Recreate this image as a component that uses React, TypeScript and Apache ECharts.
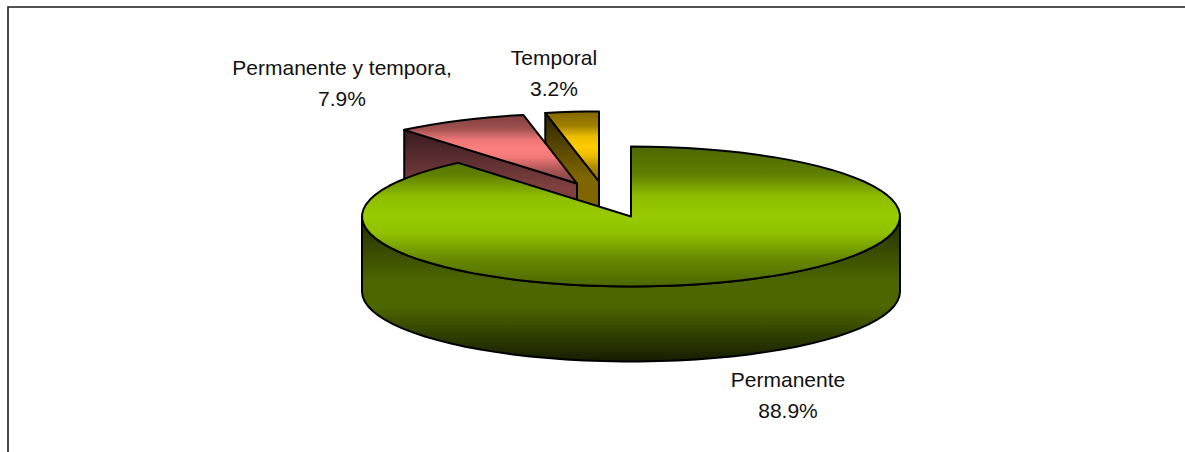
import React, { useEffect, useRef } from "react";
import * as echarts from "echarts";

const categories = ["Permanente", "Permanente y tempora,", "Temporal"];
const shares = [88.9, 7.9, 3.2];

const CX = 631;
const CY = 216.5;
const RX = 269;
const RY = 70;
const DEPTH = 75;

// Layout per slice, same order as the data
const explode = [[0, 0], [-54, -33], [-32, -35]];
const labelAt = [[788, 394.5], [342, 83], [554, 72.5]];
const mids = ["#99cc00", "#ff8080", "#ffcc00"];
const shades = ["#4d6600", "#804040", "#806600"];
const darks = ["#222d00", "#361a1f", "#2b2200"];
const darkest = ["#151c00", "#1f0f0f", "#1a1500"];

function topGradient(i: number) {
  const mix = (t: number) => echarts.color.lerp(t, [shades[i], mids[i]]);
  return new echarts.graphic.LinearGradient(0, 0, 0, 1, [
    { offset: 0, color: shades[i] },
    { offset: 0.2, color: mix(0.25) },
    { offset: 0.36, color: mix(0.85) },
    { offset: 0.5, color: mids[i] },
    { offset: 0.62, color: mix(0.88) },
    { offset: 0.8, color: mix(0.35) },
    { offset: 1, color: shades[i] },
  ]);
}

function sideGradient(i: number) {
  return new echarts.graphic.LinearGradient(0, 0, 0, 1, [
    { offset: 0, color: darks[i] },
    { offset: 0.45, color: shades[i] },
    { offset: 0.62, color: shades[i] },
    { offset: 1, color: darkest[i] },
  ]);
}

function App() {
  const ref = useRef<HTMLDivElement>(null);
  useEffect(() => {
    if (!ref.current) return;
    const chart = echarts.init(ref.current, undefined, { renderer: "svg" });
    const total = shares.reduce((a, b) => a + b, 0);
    const stroke = { stroke: "#000", lineWidth: 2, lineJoin: "round" as const };

    const renderItem = (_params: any, api: any) => {
      const i = api.value(0) as number;
      let startShare = 0;
      for (let k = 0; k < i; k++) startShare += shares[k];
      const a0 = (startShare / total) * Math.PI * 2;
      const a1 = ((startShare + (api.value(1) as number)) / total) * Math.PI * 2;
      const cx = CX + explode[i][0];
      const cy = CY + explode[i][1];
      const at = (a: number): number[] => [cx + RX * Math.sin(a), cy - RY * Math.cos(a)];
      const steps = Math.max(4, Math.ceil((a1 - a0) / 0.07));
      const arc: number[][] = [];
      for (let s = 0; s <= steps; s++) arc.push(at(a0 + ((a1 - a0) * s) / steps));
      const children: any[] = [];

      // Side walls
      if (i === 0) {
        const front: number[][] = [];
        for (let s = 0; s <= 45; s++) front.push(at(Math.PI / 2 + (Math.PI * s) / 45));
        const wall = front.concat(front.slice().reverse().map((p) => [p[0], p[1] + DEPTH]));
        children.push({
          type: "polygon",
          shape: { points: wall },
          style: { fill: sideGradient(i), ...stroke },
        });
      } else {
        const p = at(a0);
        const wall = [[cx, cy], p, [p[0], p[1] + DEPTH], [cx, cy + DEPTH]];
        children.push({
          type: "polygon",
          shape: { points: wall },
          style: { fill: sideGradient(i), ...stroke },
        });
      }

      // Top face
      children.push({
        type: "polygon",
        shape: { points: [[cx, cy], ...arc] },
        style: { fill: topGradient(i), ...stroke },
      });
      return { type: "group", children };
    };

    const labelItem = (_params: any, api: any) => {
      const i = api.value(0) as number;
      return {
        type: "text",
        x: labelAt[i][0],
        y: labelAt[i][1],
        style: {
          text: `${categories[i]}\n${(api.value(1) as number).toFixed(1)}%`,
          fontFamily: "Liberation Sans",
          fontSize: 21,
          lineHeight: 31,
          align: "center",
          verticalAlign: "middle",
          fill: "#111",
        },
      };
    };

    const order = [2, 1, 0];
    chart.setOption({
      animation: false,
      backgroundColor: "#fff",
      graphic: [
        {
          type: "polyline",
          silent: true,
          shape: { points: [[8, 452], [8, 7], [1185, 7]] },
          style: { stroke: "#1c1c1c", lineWidth: 1.6, fill: "none" },
        },
      ],
      series: [
        {
          type: "custom",
          coordinateSystem: "none",
          silent: true,
          renderItem,
          data: order.map((i) => [i, shares[i]]),
        },
        {
          type: "custom",
          coordinateSystem: "none",
          silent: true,
          renderItem: labelItem,
          data: shares.map((v, i) => [i, v]),
        },
      ],
    });
    return () => chart.dispose();
  }, []);

  return (
    <div
      ref={ref}
      style={{ position: "absolute", left: 0, top: 0, width: 1185, height: 452 }}
    />
  );
}

export default App;
